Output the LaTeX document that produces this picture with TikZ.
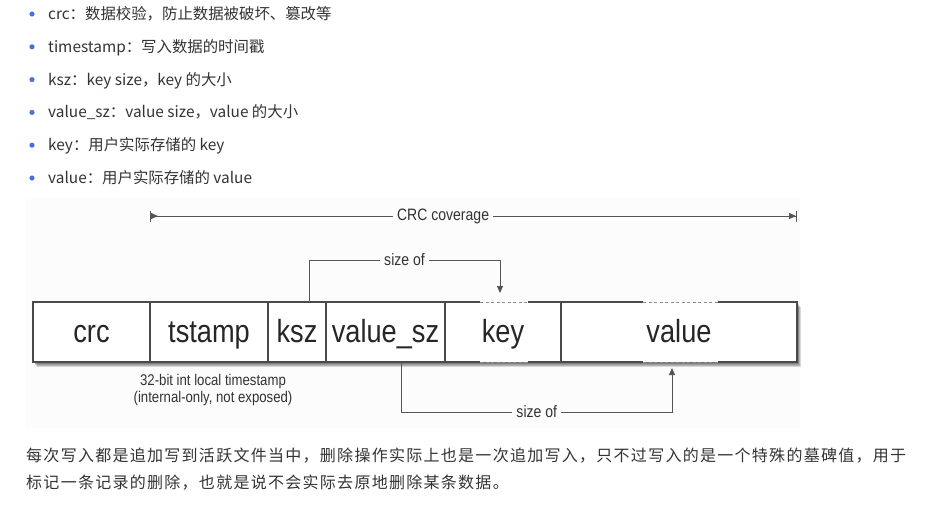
\documentclass[tikz,border=0pt]{standalone}
\usepackage{fontspec}
\setmainfont{Liberation Sans}
\newfontfamily\cjk{Noto Sans CJK SC}
\newfontfamily\cjkpara[LetterSpace=8]{Noto Sans CJK SC}
\newfontfamily\diagfont[FakeStretch=0.85]{Liberation Sans}
\usetikzlibrary{arrows.meta,positioning,calc,backgrounds,fit}
\definecolor{noteText}{HTML}{333333}
\definecolor{noteBlue}{HTML}{4F6FD8}
\definecolor{diagBg}{HTML}{FCFCFC}
\definecolor{recLine}{HTML}{4A4A4A}
\definecolor{recGray}{HTML}{8C8C8C}
\definecolor{linkGray}{HTML}{555555}

\begin{document}
\begin{tikzpicture}[x=1pt,y=-1pt,>={Triangle[length=7pt,width=6pt]},
  item/.style={anchor=base west,inner sep=0pt,text=noteText,
               font=\cjk\fontsize{15.4}{18}\selectfont},
  para/.style={anchor=base west,inner sep=0pt,text=noteText,
               font=\cjkpara\fontsize{16}{20}\selectfont},
  cell/.style={minimum height=60pt,inner sep=0pt,outer sep=0pt,
               text height=24pt,text depth=4pt,text=black!85,
               font=\diagfont\fontsize{32}{36}\selectfont},
  edge/.style={draw=recLine,line width=1.1pt},
  gapline/.style={draw=recGray,line width=0.9pt,dash pattern=on 3pt off 2.5pt},
  link/.style={draw=linkGray,line width=0.9pt},
  lbl/.style={fill=diagBg,inner xsep=4pt,inner ysep=1pt,text=black!80,
              font=\diagfont\fontsize{16.5}{18}\selectfont}]
  \useasboundingbox (0,0) rectangle (950,512);

  % field notes
  \foreach \txt [count=\i] in {{crc：数据校验，防止数据被破坏、篡改等},
      {timestamp：写入数据的时间戳},{ksz：key size，key 的大小},
      {value\_sz：value size，value 的大小},{key：用户实际存储的 key},
      {value：用户实际存储的 value}}{
    \fill[noteBlue] (32,{14+32.8*(\i-1)}) circle (2.6pt);
    \node[item] (item\i) at (48,{19.5+32.8*(\i-1)}) {\txt};
  }

  % record layout
  \node[cell,minimum width=117pt] (crc) at (91.5,332) {crc};
  \node[cell,minimum width=118pt,right=0pt of crc] (tstamp) {tstamp};
  \node[cell,minimum width=58pt,right=0pt of tstamp] (ksz) {ksz};
  \node[cell,minimum width=119pt,right=0pt of ksz] (valsz) {value\_sz};
  \node[cell,minimum width=116pt,right=0pt of valsz] (key) {key};
  \node[cell,minimum width=236pt,right=0pt of key] (value) {value};
  \begin{scope}[on background layer]
    \fill[diagBg] (25,198) rectangle (800,428);
    % soft shadow
    \foreach \d in {1,...,5}
      \fill[black,opacity=.15] ($(crc.north west)+(\d*0.8,\d)$)
        rectangle ($(value.south east)+(\d*0.8,\d)$);
    \node[fit=(crc)(value),inner sep=0pt,fill=white] (rec) {};
  \end{scope}
  \draw[edge] ($(key.north)+(-23,0)$) -| (crc.south west) -- ($(key.south)+(-23,0)$);
  \draw[edge] ($(key.north)+(25,0)$) -- ($(value.north)+(-36,0)$);
  \draw[edge] ($(key.south)+(25,0)$) -- ($(value.south)+(-36,0)$);
  \draw[edge] ($(value.north)+(39,0)$) -| (value.south east) -- ($(value.south)+(39,0)$);
  \draw[gapline] ($(key.north)+(-23,0)$) -- ($(key.north)+(25,0)$);
  \draw[gapline] ($(key.south)+(-23,0)$) -- ($(key.south)+(25,0)$);
  \draw[gapline] ($(value.north)+(-36,0)$) -- ($(value.north)+(39,0)$);
  \draw[gapline] ($(value.south)+(-36,0)$) -- ($(value.south)+(39,0)$);
  \foreach \c in {crc,tstamp,ksz,valsz,key}
    \draw[edge] (\c.north east) -- (\c.south east);

  \node[lbl,fill=none,align=center,inner sep=1pt,below=11pt of tstamp,xshift=4pt,
        font=\diagfont\fontsize{15.5}{17}\selectfont] (tsnote)
    {32-bit int local timestamp\\(internal-only, not exposed)};

  % coverage and size-of links
  \coordinate (covL) at ($(tstamp.north west)+(0,-86)$);
  \coordinate (covR) at ($(value.north east)+(0,-86)$);
  \draw[link,{Bar[width=11pt]>}-{>Bar[width=11pt]}]
    (covL) -- node[lbl,pos=.453] {CRC coverage} (covR);
  \draw[link,->] ($(ksz.north)+(12,0)$) |- node[lbl,pos=.75] {size of}
    ($(key.north)+(-3,-42)$) -- ($(key.north)+(-3,-9)$);
  \draw[link,->] ($(valsz.south)+(16,0)$) |- node[lbl,pos=.75] {size of}
    ($(value.south)+(-7,50)$) -- ($(value.south)+(-7,6)$);

  % closing paragraph
  \node[para] (para1) at (26,461)
    {每次写入都是追加写到活跃文件当中，删除操作实际上也是一次追加写入，只不过写入的是一个特殊的墓碑值，用于};
  \node[para] (para2) at (26,488)
    {标记一条记录的删除，也就是说不会实际去原地删除某条数据。};
\end{tikzpicture}
\end{document}
